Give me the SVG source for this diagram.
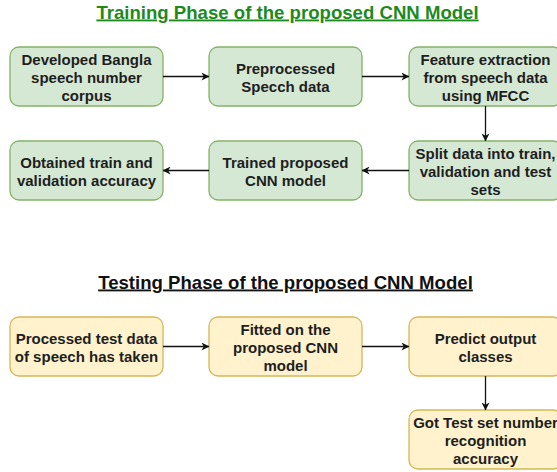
<svg xmlns="http://www.w3.org/2000/svg" width="557" height="472" viewBox="0 0 557 472">
  <style>
    .title { font-family: "Liberation Sans", Arial, sans-serif; font-size: 18.6px; font-weight: bold; text-anchor: middle; text-decoration: underline; }
    .train rect { fill: #d5e8d4; stroke: #82b366; stroke-width: 1.3; }
    .test rect { fill: #fff2cc; stroke: #d6b656; stroke-width: 1.3; }
    .node text { font-family: "Liberation Sans", Arial, sans-serif; font-size: 15px; font-weight: bold; fill: #1e1e1e; text-anchor: middle; }
    .edge { fill: none; stroke: #111; stroke-width: 1.3; marker-end: url(#arrow); }
  </style>
  <defs>
    <marker id="arrow" viewBox="0 0 10 10" refX="9.5" refY="5" markerWidth="8" markerHeight="8" markerUnits="userSpaceOnUse" orient="auto">
      <path d="M0,0 L10,5 L0,10 L3,5 Z" fill="#111"/>
    </marker>
  </defs>
  <rect width="557" height="472" fill="#ffffff"/>

  <text class="title" x="287.5" y="18.5" fill="#1e8a1e">Training Phase of the proposed CNN Model</text>
  <text class="title" x="285.5" y="288.5" fill="#111">Testing Phase of the proposed CNN Model</text>

  <!-- training phase -->
  <g id="corpus" class="node train">
    <rect x="10" y="47" width="153" height="59" rx="9"/>
    <text x="86.5"><tspan y="64.5">Developed Bangla</tspan><tspan x="86.5" y="82.5">speech number</tspan><tspan x="86.5" y="100.5">corpus</tspan></text>
  </g>
  <g id="preprocess" class="node train">
    <rect x="209" y="47" width="153" height="59" rx="9"/>
    <text x="285.5"><tspan y="73.5">Preprocessed</tspan><tspan x="285.5" y="91.5">Specch data</tspan></text>
  </g>
  <g id="mfcc" class="node train">
    <rect x="409" y="47" width="153" height="59" rx="9"/>
    <text x="485.5"><tspan y="64.5">Feature extraction</tspan><tspan x="485.5" y="82.5">from speech data</tspan><tspan x="485.5" y="100.5">using MFCC</tspan></text>
  </g>
  <g id="split" class="node train">
    <rect x="409" y="141" width="153" height="59" rx="9"/>
    <text x="485.5"><tspan y="158.5">Split data into train,</tspan><tspan x="485.5" y="176.5">validation and test</tspan><tspan x="485.5" y="194.5">sets</tspan></text>
  </g>
  <g id="trained" class="node train">
    <rect x="209" y="141" width="153" height="59" rx="9"/>
    <text x="285.5"><tspan y="167.5">Trained proposed</tspan><tspan x="285.5" y="185.5">CNN model</tspan></text>
  </g>
  <g id="train-acc" class="node train">
    <rect x="10" y="141" width="153" height="59" rx="9"/>
    <text x="86.5"><tspan y="167.5">Obtained train and</tspan><tspan x="86.5" y="185.5">validation accuracy</tspan></text>
  </g>

  <!-- testing phase -->
  <g id="test-data" class="node test">
    <rect x="10" y="317" width="153" height="59" rx="9"/>
    <text x="86.5"><tspan y="343.5">Processed test data</tspan><tspan x="86.5" y="361.5">of speech has taken</tspan></text>
  </g>
  <g id="fitted" class="node test">
    <rect x="209" y="317" width="153" height="59" rx="9"/>
    <text x="285.5"><tspan y="334.5">Fitted on the</tspan><tspan x="285.5" y="352.5">proposed CNN</tspan><tspan x="285.5" y="370.5">model</tspan></text>
  </g>
  <g id="predict" class="node test">
    <rect x="409" y="317" width="153" height="59" rx="9"/>
    <text x="485.5"><tspan y="343.5">Predict output</tspan><tspan x="485.5" y="361.5">classes</tspan></text>
  </g>
  <g id="test-acc" class="node test">
    <rect x="409" y="410" width="153" height="59" rx="9"/>
    <text x="485.5"><tspan y="427.5">Got Test set number</tspan><tspan x="485.5" y="445.5">recognition</tspan><tspan x="485.5" y="463.5">accuracy</tspan></text>
  </g>

  <g id="connectors">
    <path class="edge" d="M163,76.5 H209"/>
    <path class="edge" d="M362,76.5 H409"/>
    <path class="edge" d="M485.5,106 V141"/>
    <path class="edge" d="M409,170.5 H362"/>
    <path class="edge" d="M209,170.5 H163"/>
    <path class="edge" d="M163,346.5 H209"/>
    <path class="edge" d="M362,346.5 H409"/>
    <path class="edge" d="M485.5,376 V410"/>
  </g>
</svg>
